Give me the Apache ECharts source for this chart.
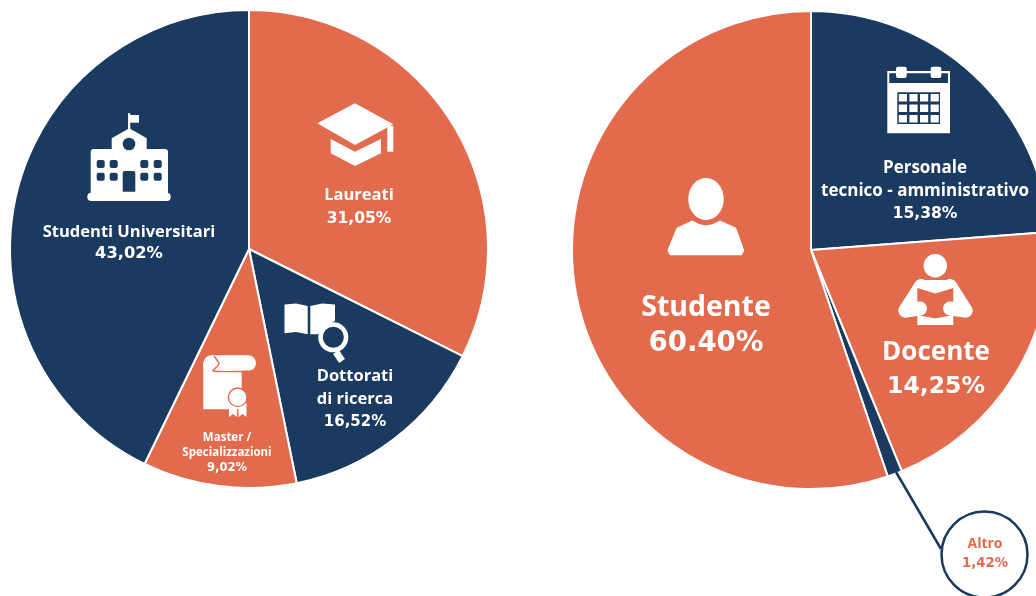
<!DOCTYPE html>
<html>
<head>
<meta charset="utf-8">
<title>Pie</title>
<style>
  html, body { margin: 0; padding: 0; background: #fff; }
  #chart { width: 1036px; height: 596px; }
</style>
<script src="https://cdn.jsdelivr.net/npm/echarts@6/dist/echarts.min.js"></script>
</head>
<body>
<div id="chart"></div>
<script>
// slice sizes are read from the drawn angles, they don't follow the printed percentages
const leftNames = ['Laureati', 'Dottorati di ricerca', 'Master / Specializzazioni', 'Studenti Universitari'];
const leftShares = [32.4, 14.4, 10.4, 42.8];
const leftLabels = [['Laureati'], ['Dottorati', 'di ricerca'], ['Master /', 'Specializzazioni'], ['Studenti Universitari']];
const leftPercents = ['31,05%', '16,52%', '9,02%', '43,02%'];

const rightNames = ['Personale tecnico - amministrativo', 'Docente', 'Altro', 'Studente'];
const rightShares = [23.8, 20.0, 1.0, 55.2];
const rightLabels = [['Personale', 'tecnico - amministrativo'], ['Docente'], [], ['Studente']];
const rightPercents = ['15,38%', '14,25%', '', '60.40%'];

const NAVY = '#1a3a5f';
const ORANGE = '#e26b4e';
const WHITE = '#ffffff';
const FONT = '"Open Sans", Roboto, sans-serif';
const NUM_FONT = '"DejaVu Sans", sans-serif';

const leftColors = [ORANGE, NAVY, ORANGE, NAVY];
const rightColors = [NAVY, ORANGE, NAVY, ORANGE];
const leftPos = [[359, 207], [355, 399], [227, 453], [129, 243]];
const rightPos = [[925, 191], [936, 369.5], [0, 0], [706, 325.5]];
// name size, line height, percent size
const leftSize = [[16.5, 23, 15.5], [16.5, 23, 15], [11.5, 15.5, 11.5], [16.5, 22, 16.3]];
const rightSize = [[17, 23, 15.6], [26, 34, 23.5], [0, 0, 0], [28.5, 36, 27.6]];

function pie(center, names, shares, labels, percents, colors, pos, size) {
  return {
    type: 'pie',
    z: 1,
    center,
    radius: [0, 239],
    startAngle: 90,
    clockwise: true,
    silent: true,
    animation: false,
    avoidLabelOverlap: false,
    itemStyle: { borderColor: WHITE, borderWidth: 2 },
    labelLine: { show: false },
    labelLayout: p => ({ x: pos[p.dataIndex][0], y: pos[p.dataIndex][1], align: 'center', verticalAlign: 'middle' }),
    data: names.map((name, i) => ({
      name,
      value: shares[i],
      itemStyle: { color: colors[i] },
      label: {
        show: percents[i] !== '',
        position: 'inside',
        formatter: labels[i].map(l => `{n|${l}}`).concat(`{p|${percents[i]}}`).join('\n'),
        align: 'center',
        rich: {
          n: { color: WHITE, fontFamily: FONT, fontWeight: 700, fontSize: size[i][0], lineHeight: size[i][1], align: 'center' },
          p: { color: WHITE, fontFamily: NUM_FONT, fontWeight: 700, fontSize: size[i][2], lineHeight: size[i][1], align: 'center' }
        }
      }
    }))
  };
}

// little helpers for the icons
const rect = (x, y, width, height, fill, r) => ({ type: 'rect', z: 10, silent: true, shape: { x, y, width, height, r: r || 0 }, style: { fill } });
const circle = (cx, cy, r, fill, stroke, lineWidth) => ({ type: 'circle', z: 10, silent: true, shape: { cx, cy, r }, style: { fill, stroke, lineWidth } });
const poly = (points, fill) => ({ type: 'polygon', z: 10, silent: true, shape: { points }, style: { fill } });
const seg = (x1, y1, x2, y2, stroke, lineWidth, cap) => ({ type: 'line', z: 10, silent: true, shape: { x1, y1, x2, y2 }, style: { stroke, lineWidth, lineCap: cap || 'butt' } });

const school = [
  rect(87.3, 192.7, 83.4, 8.3, WHITE, 4),
  rect(90.7, 149, 77.3, 45, WHITE, [3, 3, 0, 0]),
  poly([[111.7, 138.3], [129.3, 128.3], [146.7, 138.3], [146.7, 150], [111.7, 150]], WHITE),
  rect(128, 113.3, 2.3, 16, WHITE),
  rect(130, 115, 9, 7.7, WHITE),
  circle(129, 144, 6.3, NAVY),
  rect(122.7, 171, 12.6, 20.7, NAVY, [2, 2, 0, 0])
];
[96.7, 109.7, 140.3, 153.7].forEach(x => {
  [160, 172.7].forEach(y => school.push(rect(x, y, 8, 8, NAVY, 2)));
});

const cap = [
  poly([[317.3, 123.3], [355, 103.3], [393.3, 124.3], [355, 145]], WHITE),
  rect(387.3, 126, 6, 25.7, WHITE),
  poly([[330.7, 139], [355, 151.7], [381, 139], [381, 153.3], [355, 166], [330.7, 153.3]], WHITE)
];

const book = [
  poly([[284.5, 304.5], [296, 303.5], [307.7, 306], [307.7, 334.3], [296, 332], [284.5, 333.3]], WHITE),
  poly([[310.3, 306], [322, 303.5], [335, 304.5], [335, 321], [322, 328], [318, 334.3], [310.3, 334.3]], WHITE),
  seg(336, 352, 342, 361, WHITE, 7),
  circle(333.3, 337.3, 12.8, NAVY, WHITE, 4.5)
];

const diploma = [
  circle(211.5, 363.5, 8.3, WHITE),
  rect(203.3, 363, 38.4, 46.3, WHITE),
  rect(211.5, 355.2, 44.5, 16, WHITE, [0, 8, 8, 0]),
  { type: 'polyline', z: 10, silent: true, shape: { points: [[214, 356], [219, 364], [213, 371], [256, 371]], smooth: 0.2 }, style: { stroke: ORANGE, lineWidth: 1.4, fill: 'none' } },
  poly([[229, 403], [237, 403], [237, 417], [233, 414], [229, 417]], WHITE),
  poly([[238.5, 403], [246.5, 403], [246.5, 417], [242.5, 414], [238.5, 417]], WHITE),
  circle(237.7, 397.3, 9.3, WHITE, ORANGE, 1.4)
];

const person = [
  { type: 'ellipse', z: 10, silent: true, shape: { cx: 706, cy: 199, rx: 17.7, ry: 21 }, style: { fill: WHITE } },
  poly([[692.3, 220.5], [699, 224], [706, 225.5], [713, 224], [720, 220.5], [736, 227.8], [744.3, 250.5], [741.7, 255.2], [670, 255.2], [667.3, 250.5], [676.7, 227.8]], WHITE)
];

const calendar = [
  rect(887.3, 71, 62.7, 62.3, WHITE),
  rect(889.3, 73.3, 58.7, 9.7, NAVY),
  rect(896, 66.7, 10.7, 11.3, WHITE, 2),
  rect(930.7, 66.7, 10.6, 11.3, WHITE, 2),
  rect(897.3, 92.3, 42.7, 31.7, NAVY)
];
[898.8, 909.4, 920, 930.6].forEach(x => {
  [94, 104.5, 115].forEach(y => calendar.push(rect(x, y, 8.2, 7.5, WHITE)));
});

const reader = [
  circle(935.3, 265.7, 11.7, WHITE),
  poly([[918, 280], [953, 280], [958, 290], [958, 302], [913, 302], [913, 290]], WHITE),
  seg(921, 286, 905.5, 310.5, WHITE, 14, 'round'),
  seg(950, 286, 965.5, 310.5, WHITE, 14, 'round'),
  poly([[917.3, 288], [935.3, 293.5], [953.3, 288], [953.3, 315], [935.3, 318], [917.3, 315]], ORANGE),
  seg(905.5, 310.5, 920, 308.5, WHITE, 14, 'round'),
  seg(965.5, 310.5, 950, 308.5, WHITE, 14, 'round'),
  poly([[917.3, 315], [935.3, 318.5], [953.3, 315], [953.3, 325], [917.3, 325]], WHITE)
];

// callout for the thin slice
const callout = [
  seg(896, 472, 941, 549, NAVY, 2.5),
  circle(984.5, 554.5, 43, WHITE, NAVY, 2.5),
  {
    type: 'text', z: 11, silent: true, x: 985, y: 554,
    style: {
      text: '{n|Altro}\n{p|1,42%}',
      align: 'center',
      verticalAlign: 'middle',
      rich: {
        n: { fill: ORANGE, fontFamily: FONT, fontWeight: 700, fontSize: 14, lineHeight: 20, align: 'center' },
        p: { fill: ORANGE, fontFamily: NUM_FONT, fontWeight: 700, fontSize: 13.3, lineHeight: 20, align: 'center' }
      }
    }
  }
];

const chart = echarts.init(document.getElementById('chart'), null, { renderer: 'canvas' });
chart.setOption({
  animation: false,
  backgroundColor: WHITE,
  series: [
    pie([249, 249], leftNames, leftShares, leftLabels, leftPercents, leftColors, leftPos, leftSize),
    pie([811, 250], rightNames, rightShares, rightLabels, rightPercents, rightColors, rightPos, rightSize)
  ],
  graphic: { elements: [...school, ...cap, ...book, ...diploma, ...person, ...calendar, ...reader, ...callout] }
});
</script>
</body>
</html>
